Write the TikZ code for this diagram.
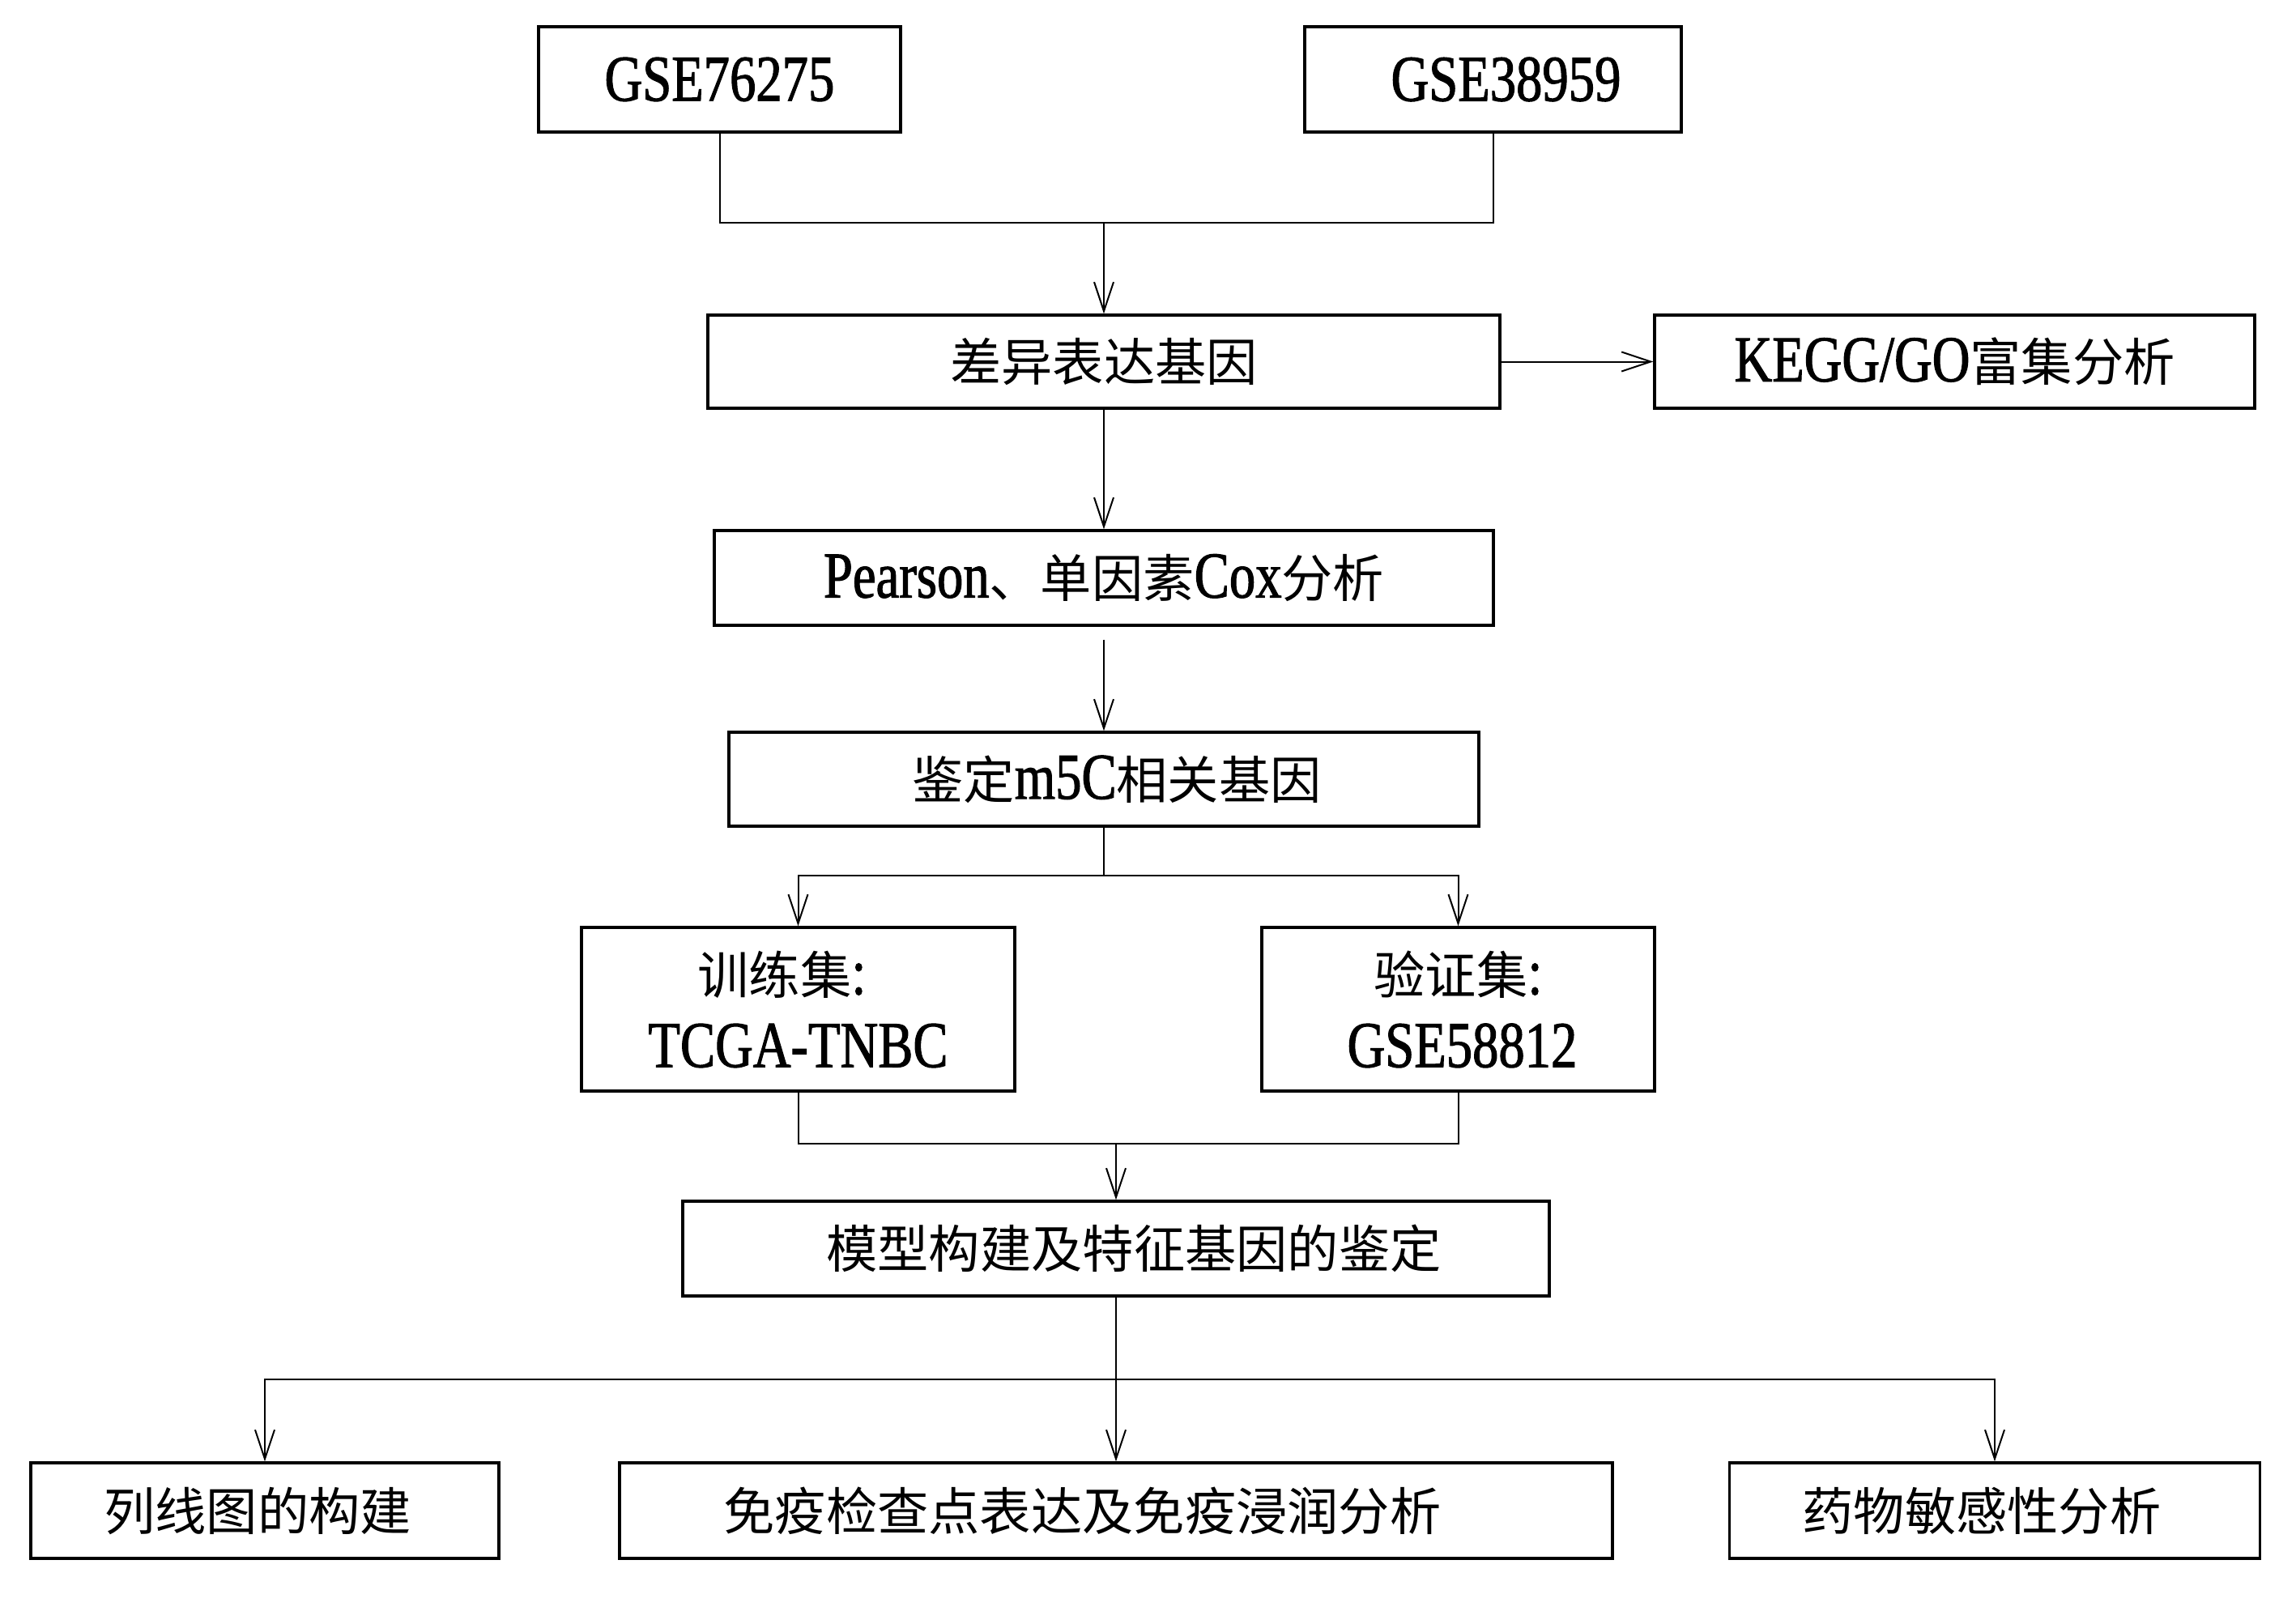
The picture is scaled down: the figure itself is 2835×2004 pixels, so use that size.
\documentclass[tikz,border=0pt]{standalone}
\usepackage{fontspec}
\setmainfont{Liberation Serif}[FakeStretch=0.8,FakeBold=1.3]
\newfontfamily\cjkf{Noto Sans CJK SC}
\newcommand{\zh}[1]{{\cjkf\fontsize{18}{25.6}\selectfont #1}}
\usetikzlibrary{arrows.meta}
\begin{document}
\begin{tikzpicture}[x=0.1mm,y=-0.1mm,
  box/.style={draw=black,line width=0.33mm,minimum height=11.6mm,inner sep=0pt,align=center,
    font=\fontsize{23}{25.6}\selectfont},
  conn/.style={draw=black,line width=0.2mm},
  arr/.style={conn,-{Straight Barb[length=3.6mm,width=2.4mm]}}]
\useasboundingbox[fill=white] (0,0) rectangle (2835,2004);
% nodes
\node[box,minimum width=44.7mm,minimum height=13mm] (g1) at (888.5,98) {GSE76275};
\node[box,minimum width=46.5mm,minimum height=13mm] (g2) at (1843.5,98) {\hspace*{3.2mm}GSE38959};
\node[box,minimum width=97.8mm,minimum height=11.5mm] (deg) at (1363,446.5) {\zh{差异表达基因}};
\node[box,minimum width=74.1mm,minimum height=11.5mm] (kegg) at (2413.5,446.5) {KEGG/GO\zh{富集分析}};
\node[box,minimum width=96.2mm,minimum height=11.7mm] (pear) at (1363,713.5) {Pearson\zh{、单因素}Cox\zh{分析}};
\node[box,minimum width=92.6mm,minimum height=11.6mm] (m5c) at (1363,962) {\hspace*{3.2mm}\zh{鉴定}m5C\zh{相关基因}};
\node[box,minimum width=53.5mm,minimum height=20.2mm] (train) at (985.5,1246) {\zh{训练集}:\hspace*{4mm}\\TCGA-TNBC};
\node[box,minimum width=48.5mm,minimum height=20.2mm] (valid) at (1800.5,1246) {\zh{验证集}:\\\hspace*{1mm}GSE58812};
\node[box,minimum width=107mm,minimum height=11.7mm] (model) at (1378,1541.5) {\hspace*{4.4mm}\zh{模型构建及特征基因的鉴定}};
\node[box,minimum width=57.8mm,minimum height=11.8mm] (nomo) at (327,1865) {\zh{列线图的构建}\hspace*{1.8mm}};
\node[box,minimum width=122.6mm,minimum height=11.8mm] (imm) at (1378,1865) {\zh{免疫检查点表达及免疫浸润分析}\hspace*{8.3mm}};
\node[box,minimum width=65.5mm,minimum height=11.8mm] (drug) at (2463,1865) {\zh{药物敏感性分析}\hspace*{3.2mm}};
% junctions
\coordinate (j1) at (1363,275);
\coordinate (j2) at (1363,1081);
\coordinate (j3) at (1378,1412);
\coordinate (j4) at (1378,1703);
% connectors
\draw[conn] (g1.south) |- (j1) -| (g2.south);
\draw[arr] (j1) -- (deg.north);
\draw[arr] (deg.east) -- (kegg.west);
\draw[arr] (deg.south) -- (pear.north);
\draw[arr,shorten <=1.6mm] (pear.south) -- (m5c.north);
\draw[conn] (m5c.south) -- (j2);
\draw[arr] (j2) -| (train.north);
\draw[arr] (j2) -| (valid.north);
\draw[conn] (train.south) |- (j3) -| (valid.south);
\draw[arr] (j3) -- (model.north);
\draw[arr] (model.south) -- (imm.north);
\draw[arr] (j4) -| (nomo.north);
\draw[arr] (j4) -| (drug.north);
\end{tikzpicture}
\end{document}
